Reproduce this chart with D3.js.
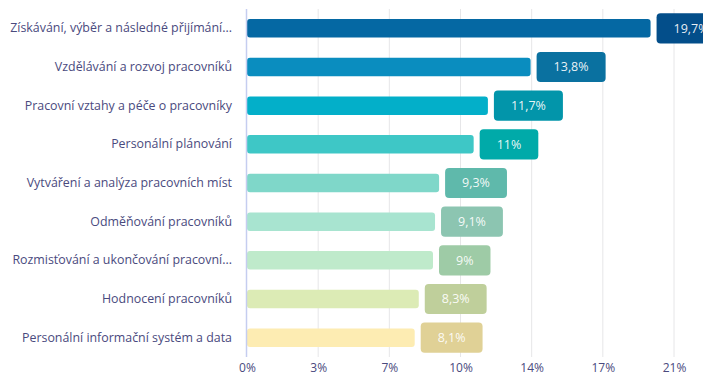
<!DOCTYPE html>
<html>
<head>
<meta charset="utf-8">
<script src="https://cdn.jsdelivr.net/npm/d3@7"></script>
<style>
  html, body { margin: 0; padding: 0; background: #fff; }
  svg { display: block; }
  text { font-family: "Open Sans", "Noto Sans", sans-serif; }
</style>
</head>
<body>
<svg id="chart" width="703" height="378"></svg>
<script>
// Oblasti personální práce a jejich podíl (%)
const categories = [
  "Získávání, výběr a následné přijímání...",
  "Vzdělávání a rozvoj pracovníků",
  "Pracovní vztahy a péče o pracovníky",
  "Personální plánování",
  "Vytváření a analýza pracovních míst",
  "Odměňování pracovníků",
  "Rozmisťování a ukončování pracovní...",
  "Hodnocení pracovníků",
  "Personální informační systém a data"
];
const values = [19.7, 13.8, 11.7, 11, 9.3, 9.1, 9, 8.3, 8.1];
const valueLabels = ["19,7%", "13,8%", "11,7%", "11%", "9,3%", "9,1%", "9%", "8,3%", "8,1%"];
const tickValues = [0, 3.5, 7, 10.5, 14, 17.5, 21];
const tickLabels = ["0%", "3%", "7%", "10%", "14%", "17%", "21%"];
const barColors = ["#0568a3", "#0a8dbf", "#03afc9", "#3ec7c6", "#7fd7c9", "#a8e4d0", "#bfeacb", "#dcebb5", "#fdecb2"];
const boxColors = ["#034e8a", "#0a71a0", "#0295aa", "#00aaa9", "#5fb9ab", "#8cc5b1", "#9ecba6", "#bfcf9b", "#e0d196"];

const svg = d3.select("#chart");
const plotLeft = 247, plotRight = 674, plotTop = 9, plotBottom = 357;

const x = d3.scaleLinear().domain([0, 21]).range([plotLeft, plotRight]);
const y = d3.scaleBand().domain(categories).range([plotTop, plotBottom])
  .paddingInner(0.52).paddingOuter(0.26);

// vertical grid lines
svg.append("g")
  .selectAll("line")
  .data(tickValues.slice(1))
  .join("line")
  .attr("x1", d => x(d)).attr("x2", d => x(d))
  .attr("y1", plotTop).attr("y2", plotBottom)
  .attr("stroke", "#e6e6e8").attr("stroke-width", 1);

// x axis tick labels
const xAxis = d3.axisBottom(x)
  .tickValues(tickValues)
  .tickFormat((d, i) => tickLabels[i])
  .tickSize(0).tickPadding(6);
const gx = svg.append("g").attr("transform", `translate(0,${plotBottom})`).call(xAxis);
gx.select(".domain").remove();
gx.selectAll("text").attr("fill", "#4a4a7e").style("font-size", "12px");

// y axis category labels
const yAxis = d3.axisLeft(y).tickSize(0).tickPadding(14);
const gy = svg.append("g").attr("transform", `translate(${plotLeft - 1},0)`).call(yAxis);
gy.select(".domain").remove();
gy.selectAll("text").attr("fill", "#4a4a7e").style("font-size", "12.4px");

// bars
const cap = 3;
svg.append("g")
  .selectAll("rect")
  .data(values)
  .join("rect")
  .attr("x", x(0))
  .attr("y", (d, i) => y(categories[i]))
  .attr("width", d => x(d) - x(0) + cap)
  .attr("height", y.bandwidth())
  .attr("rx", 3)
  .attr("fill", (d, i) => barColors[i]);

// baseline
svg.append("line")
  .attr("x1", plotLeft - 0.5).attr("x2", plotLeft - 0.5)
  .attr("y1", plotTop).attr("y2", plotBottom)
  .attr("stroke", "#c5cdf0").attr("stroke-width", 1.5);

// value boxes
const boxH = y.step() * 0.78;
const pad = 17;
const gLabels = svg.append("g");
values.forEach((v, i) => {
  const cy = y(categories[i]) + y.bandwidth() / 2;
  const g = gLabels.append("g");
  const t = g.append("text")
    .attr("y", cy)
    .attr("dy", "0.35em")
    .attr("fill", "#ffffff")
    .attr("fill-opacity", 0.92)
    .attr("text-anchor", "middle")
    .style("font-size", "12.5px")
    .style("font-weight", 500)
    .text(valueLabels[i]);
  const w = t.node().getComputedTextLength() + pad * 2;
  const bx = x(v) + cap + 6;
  g.insert("rect", "text")
    .attr("x", bx).attr("y", cy - boxH / 2)
    .attr("width", w).attr("height", boxH)
    .attr("rx", 4)
    .attr("fill", boxColors[i]);
  t.attr("x", bx + w / 2);
});
</script>
</body>
</html>
